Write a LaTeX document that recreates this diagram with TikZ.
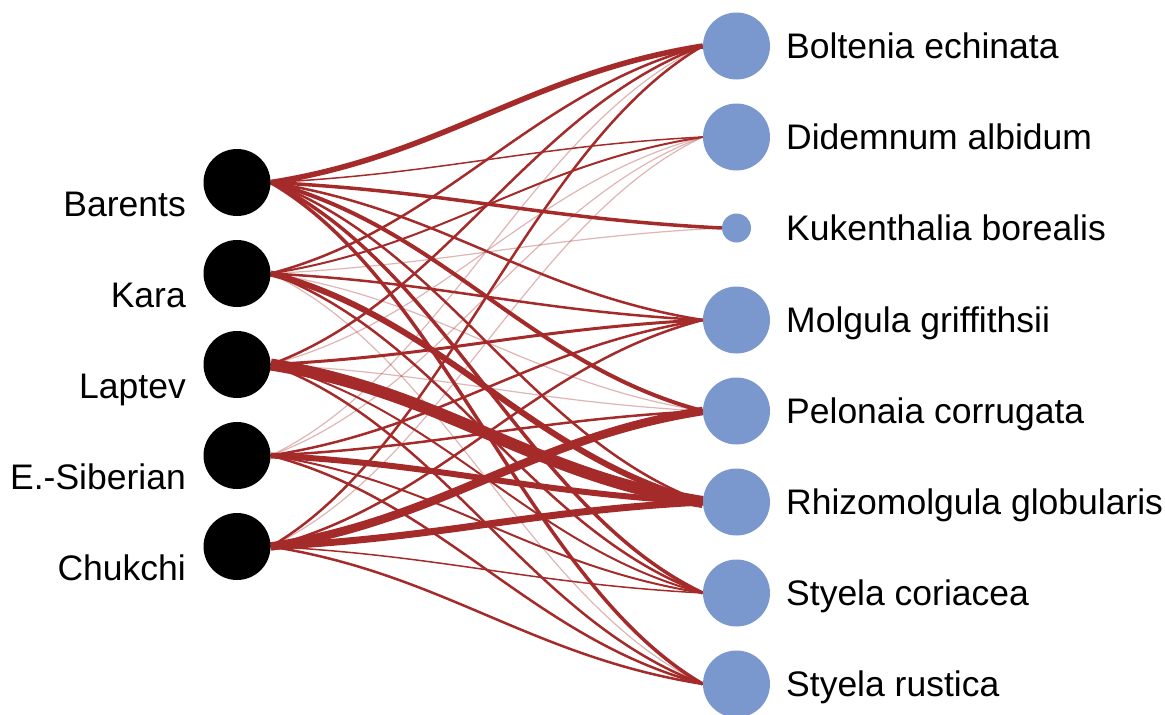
\documentclass[tikz,border=0pt]{standalone}
\usepackage{fontspec}
\setmainfont{Liberation Sans}
\usetikzlibrary{calc,backgrounds}
\definecolor{linkred}{RGB}{165,42,42}
\definecolor{taxonblue}{RGB}{122,152,206}

\begin{document}
\begin{tikzpicture}[x=1pt, y=-1pt,
  sea/.style={circle, fill=black, minimum size=67pt, inner sep=0pt},
  taxon/.style={circle, fill=taxonblue, minimum size=67pt, inner sep=0pt},
  sealabel/.style={anchor=base east, inner sep=0pt, font=\fontsize{35.5}{40}\selectfont},
  taxonlabel/.style={anchor=base west, inner sep=0pt, font=\fontsize{35.5}{40}\selectfont},
  flow/.style={to path={let \p1=(\tikztostart), \p2=(\tikztotarget) in
    .. controls ({\x1+0.4*(\x2-\x1)},{\y1+0.2*(\y2-\y1)}) and ({\x2-0.4*(\x2-\x1)},{\y2-0.2*(\y2-\y1)}) .. (\tikztotarget)}},
  link/.style={draw=linkred, line width=#1pt, flow},
  faint/.style={draw opacity=0.35}]
\useasboundingbox (0,0) rectangle (1165,715);

\node[sea] (barents) at (237,182.5) {};
\node[sea] (kara) at (237,273.5) {};
\node[sea] (laptev) at (237,364.5) {};
\node[sea] (esib) at (237,455.5) {};
\node[sea] (chukchi) at (237,546.5) {};
\node[sealabel] (barentslbl) at (186,216) {Barents};
\node[sealabel] (karalbl) at (186,307) {Kara};
\node[sealabel] (laptevlbl) at (186,398) {Laptev};
\node[sealabel] (esiblbl) at (186,489) {E.-Siberian};
\node[sealabel] (chukchilbl) at (186,580) {Chukchi};

\node[taxon] (boltenia) at (736.5,46) {};
\node[taxon] (didemnum) at (736.5,137) {};
\node[taxon, minimum size=29pt] (kukenthalia) at (736.5,228) {};
\node[taxon] (molgula) at (736.5,320) {};
\node[taxon] (pelonaia) at (736.5,411) {};
\node[taxon] (rhizomolgula) at (736.5,502) {};
\node[taxon] (coriacea) at (736.5,593) {};
\node[taxon] (rustica) at (736.5,684) {};
\node[taxonlabel] (bolteniallbl) at (786,58.5) {Boltenia echinata};
\node[taxonlabel] (didemnumlbl) at (786,149.5) {Didemnum albidum};
\node[taxonlabel] (kukenthalialbl) at (786,240.5) {Kukenthalia borealis};
\node[taxonlabel] (molgulalbl) at (786,332.5) {Molgula griffithsii};
\node[taxonlabel] (pelonaialbl) at (786,423.5) {Pelonaia corrugata};
\node[taxonlabel] (rhizomolgulalbl) at (786,514.5) {Rhizomolgula globularis};
\node[taxonlabel] (coriacealbl) at (786,605.5) {Styela coriacea};
\node[taxonlabel] (rusticalbl) at (786,696.5) {Styela rustica};

\begin{scope}[on background layer]
\draw[link=1.2, faint] (kara.east) to (kukenthalia.west);
\draw[link=1.2, faint] (kara.east) to (pelonaia.west);
\draw[link=1.2, faint] (kara.east) to (rustica.west);
\draw[link=1.2, faint] (laptev.east) to (didemnum.west);
\draw[link=1.2, faint] (laptev.east) to (pelonaia.west);
\draw[link=1.2, faint] (esib.east) to (boltenia.west);
\draw[link=1.2, faint] (esib.east) to (didemnum.west);
\draw[link=1.2, faint] (chukchi.east) to (didemnum.west);
\draw[link=5.5] (barents.east) to (boltenia.west);
\draw[link=1.5] (barents.east) to (didemnum.west);
\draw[link=3.5] (barents.east) to (kukenthalia.west);
\draw[link=2.5] (barents.east) to (molgula.west);
\draw[link=4] (barents.east) to (pelonaia.west);
\draw[link=2.5] (barents.east) to (rhizomolgula.west);
\draw[link=3.5] (barents.east) to (coriacea.west);
\draw[link=3.5] (barents.east) to (rustica.west);
\draw[link=2.5] (kara.east) to (boltenia.west);
\draw[link=2] (kara.east) to (didemnum.west);
\draw[link=2.5] (kara.east) to (molgula.west);
\draw[link=6] (kara.east) to (rhizomolgula.west);
\draw[link=2.5] (kara.east) to (coriacea.west);
\draw[link=2.5] (laptev.east) to (boltenia.west);
\draw[link=3] (laptev.east) to (molgula.west);
\draw[link=12] (laptev.east) to (rhizomolgula.west);
\draw[link=2] (laptev.east) to (coriacea.west);
\draw[link=2.5] (laptev.east) to (rustica.west);
\draw[link=2.5] (esib.east) to (molgula.west);
\draw[link=2.5] (esib.east) to (pelonaia.west);
\draw[link=6] (esib.east) to (rhizomolgula.west);
\draw[link=2] (esib.east) to (coriacea.west);
\draw[link=2.5] (esib.east) to (rustica.west);
\draw[link=2.5] (chukchi.east) to (boltenia.west);
\draw[link=2.5] (chukchi.east) to (molgula.west);
\draw[link=8.5] (chukchi.east) to (pelonaia.west);
\draw[link=7] (chukchi.east) to (rhizomolgula.west);
\draw[link=1.5] (chukchi.east) to (coriacea.west);
\draw[link=2.5] (chukchi.east) to (rustica.west);
\end{scope}
\end{tikzpicture}
\end{document}
